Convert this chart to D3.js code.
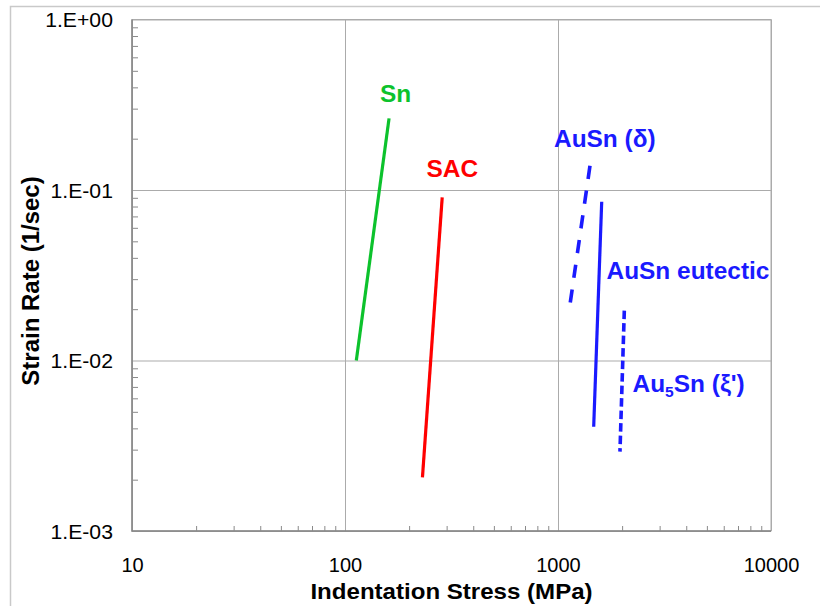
<!DOCTYPE html>
<html><head><meta charset="utf-8">
<script src="https://cdn.jsdelivr.net/npm/d3@7/dist/d3.min.js"></script>
<style>
body{margin:0;background:#fff;}
text{font-family:"Liberation Sans",Arial,sans-serif;}
</style></head>
<body>
<svg id="c" width="820" height="606"></svg>
<script>
// ---- data ----
const xMajor = [10, 100, 1000, 10000];
const yMajor = [1e-3, 1e-2, 1e-1, 1];
const yTickLabels = ["1.E-03", "1.E-02", "1.E-01", "1.E+00"];
const xTickLabels = ["10", "100", "1000", "10000"];

const snStress = [113, 161];       const snRate = [0.0100, 0.263];
const sacStress = [231, 286];      const sacRate = [0.00206, 0.0906];
const ausnDStress = [1413, 1138];  const ausnDRate = [0.1388, 0.0212];
const eutStress = [1604, 1471];    const eutRate = [0.0854, 0.00409];
const au5Stress = [2048, 1954];    const au5Rate = [0.0196, 0.00292];

const seriesNames = ["Sn", "SAC", "AuSn (δ)", "AuSn eutectic", "Au5Sn (ξ')"];

// ---- chart ----
const svg = d3.select("#c");
const L = 132, R = 771, T = 19.5, B = 531;
const x = d3.scaleLog().domain([10, 10000]).range([L, R]);
const y = d3.scaleLog().domain([1e-3, 1]).range([B, T]);

// outer frame
svg.append("rect").attr("x", 10.5).attr("y", 6.5).attr("width", 900).attr("height", 700)
  .attr("fill", "none").attr("stroke", "#c9c9c9").attr("stroke-width", 1.5);

// minor ticks
function minors(lo, hi) {
  const out = [];
  for (let e = lo; e < hi; e++) for (let m = 2; m <= 9; m++) out.push(m * Math.pow(10, e));
  return out;
}
const gyMinor = svg.append("g").attr("transform", `translate(${L},0)`)
  .call(d3.axisLeft(y).tickValues(minors(-3, 0)).tickSize(-6).tickFormat(""));
const gxMinor = svg.append("g").attr("transform", `translate(0,${B})`)
  .call(d3.axisBottom(x).tickValues(minors(1, 4)).tickSize(-5).tickFormat(""));
[gyMinor, gxMinor].forEach(g => {
  g.select(".domain").remove();
  g.selectAll("line").attr("stroke", "#8a8a8a");
});

// major grid + labels
const gy = svg.append("g").attr("transform", `translate(${L},0)`)
  .call(d3.axisLeft(y).tickValues(yMajor).tickSize(-(R - L)).tickPadding(18)
    .tickFormat((d, i) => yTickLabels[i]));
gy.select(".domain").remove();
gy.selectAll("line").attr("stroke", "#ababab");
gy.selectAll("text").attr("font-size", 20).attr("fill", "#000")
  .attr("dy", "0.36em")
  .attr("transform", "scale(1.06,1)");

const gx = svg.append("g").attr("transform", `translate(0,${B})`)
  .call(d3.axisBottom(x).tickValues(xMajor).tickSize(-(B - T)).tickPadding(27)
    .tickFormat((d, i) => xTickLabels[i]));
gx.select(".domain").remove();
gx.selectAll("line").attr("stroke", "#ababab");
gx.selectAll("text").attr("font-size", 20).attr("fill", "#000")
  .attr("dy", "0.7em");

// plot border
svg.append("rect").attr("x", L).attr("y", T).attr("width", R - L).attr("height", B - T)
  .attr("fill", "none").attr("stroke", "#ababab").attr("stroke-width", 1);
svg.append("path").attr("d", `M${L},${T}V${B}H${R}`).attr("fill", "none")
  .attr("stroke", "#858585").attr("stroke-width", 1.5);

// series lines
const line = d3.line().x(d => x(d[0])).y(d => y(d[1]));
const zip = (a, b) => a.map((v, i) => [v, b[i]]);
const series = [
  {s: snStress, r: snRate, c: "#0cc22c", dash: null, w: 3.2},
  {s: sacStress, r: sacRate, c: "#ff0000", dash: null, w: 3.2},
  {s: ausnDStress, r: ausnDRate, c: "#1a1aff", dash: "13.3,11.7", w: 3.6},
  {s: eutStress, r: eutRate, c: "#1a1aff", dash: null, w: 3.2},
  {s: au5Stress, r: au5Rate, c: "#1a1aff", dash: "8.5,4", w: 3.6}
];
series.forEach(o => {
  svg.append("path").datum(zip(o.s, o.r)).attr("d", line)
    .attr("fill", "none").attr("stroke", o.c).attr("stroke-width", o.w)
    .attr("stroke-dasharray", o.dash);
});

// labels
function label(px, py, color) {
  return svg.append("g").attr("transform", `translate(${px},${py}) scale(1.04,1)`)
    .append("text").attr("font-size", 23.5).attr("font-weight", "bold").attr("fill", color);
}
label(380, 101.5, "#0cc22c").text(seriesNames[0]);
label(426.5, 176.5, "#ff0000").text(seriesNames[1]);
label(554, 146.5, "#1a1aff").text(seriesNames[2]);
label(606.5, 278.5, "#1a1aff").text(seriesNames[3]);
const t5 = label(632.5, 391.5, "#1a1aff");
t5.append("tspan").text("Au");
t5.append("tspan").text("5").attr("font-size", 15).attr("dy", 5);
t5.append("tspan").text("Sn (ξ')").attr("dy", -5);

// axis titles
svg.append("g").attr("transform", `translate(451.5,599) scale(1.07,1)`)
  .append("text").attr("text-anchor", "middle").attr("font-size", 22.5)
  .attr("font-weight", "bold").text("Indentation Stress (MPa)");
svg.append("g").attr("transform", `translate(39,281) rotate(-90)`)
  .append("text").attr("text-anchor", "middle").attr("font-size", 24)
  .attr("font-weight", "bold").text("Strain Rate (1/sec)");
</script>
</body></html>
